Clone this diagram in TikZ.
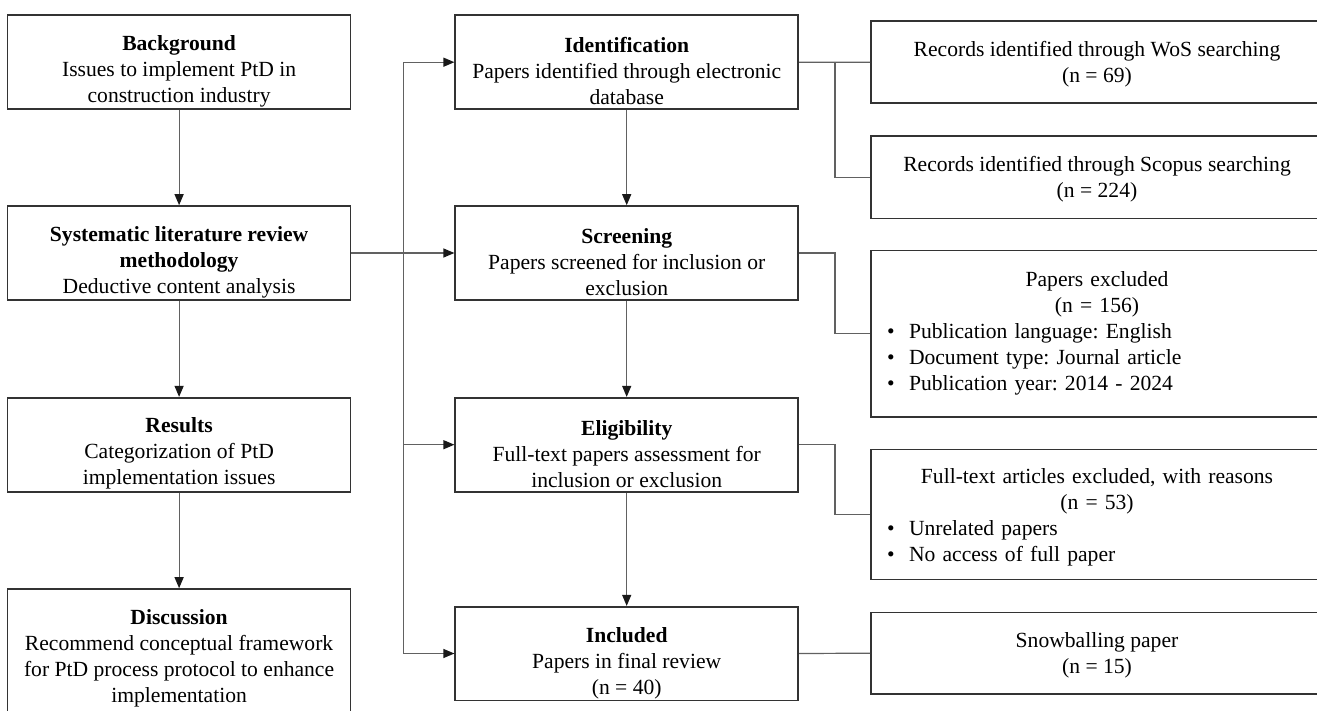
\documentclass[tikz,border=0pt]{standalone}
\usepackage{fontspec}
\setmainfont{Liberation Serif}
\usetikzlibrary{arrows.meta,calc}
\frenchspacing
\begin{document}
\begin{tikzpicture}[x=1pt,y=-1pt,
  box/.style={draw=black!80,line width=1.6pt,inner sep=0pt,fill=white},
  lbox/.style={box,minimum width=343pt,minimum height=94pt},
  rbox/.style={box,minimum width=452pt},
  txt/.style={align=center,inner sep=0pt,font=\fontsize{21.6}{26}\selectfont},
  rtxt/.style={align=left,text width=420pt,inner sep=0pt,font=\fontsize{21.6}{26}\selectfont},
  conn/.style={draw=black!62,line width=1.2pt},
  arr/.style={conn,-{Triangle[length=11pt,width=9pt,color=black!90]}}
]
\useasboundingbox (0,0) rectangle (1317,711);
\clip (0,0) rectangle (1317,711);
\fill[white] (0,0) rectangle (1317,711);

% left column
\node[lbox] (bg)  at (179.1,62.2) {};
\node[lbox] (slr) at (179.1,253) {};
\node[lbox] (res) at (179.1,444.7) {};
\node[lbox,minimum height=151pt] (dis) at (179.1,664.5) {};

% middle column
\node[lbox] (idn) at (626.7,62.2) {};
\node[lbox] (scr) at (626.7,253) {};
\node[lbox] (eli) at (626.7,444.7) {};
\node[lbox,minimum height=93.6pt] (inc) at (626.7,653.5) {};

% right column
\node[rbox,minimum height=82pt]  (wos) at (1097,62.3) {};
\node[rbox,minimum height=82.3pt] (sco) at (1097,177.2) {};
\node[rbox,minimum height=166pt] (exc) at (1097,333.7) {};
\node[rbox,minimum height=130pt] (ftx) at (1097,514.3) {};
\node[rbox,minimum height=81.7pt] (snw) at (1097,653.2) {};

% texts
\node[txt] (bgt)  at ([yshift=-9pt]bg.center) {\textbf{Background}\\Issues to implement PtD in\\construction industry};
\node[txt] (slrt) at ([yshift=-9pt]slr.center) {\textbf{Systematic literature review}\\\textbf{methodology}\\Deductive content analysis};
\node[txt] (rest) at ([yshift=-9pt]res.center) {\textbf{Results}\\Categorization of PtD\\implementation issues};
\node[txt] (dist) at (179.1,658.5) {\textbf{Discussion}\\Recommend conceptual framework\\for PtD process protocol to enhance\\implementation};

\node[txt] (idnt) at ([yshift=-9pt]idn.center) {\textbf{Identification}\\Papers identified through electronic\\database};
\node[txt] (scrt) at ([yshift=-9pt]scr.center) {\textbf{Screening}\\Papers screened for inclusion or\\exclusion};
\node[txt] (elit) at ([yshift=-9pt]eli.center) {\textbf{Eligibility}\\Full-text papers assessment for\\inclusion or exclusion};
\node[txt] (inct) at ([yshift=-9.5pt]inc.center) {\textbf{Included}\\Papers in final review\\(n = 40)};

\node[txt] (wost) at ([yshift=-2.3pt]wos.center) {Records identified through WoS searching\\(n = 69)};
\node[txt] (scot) at ([yshift=-2.3pt]sco.center) {Records identified through Scopus searching\\(n = 224)};
\node[rtxt] (exct) at (1097,333) {\centering Papers excluded\\(n = 156)\par
  \raggedright
  \makebox[22pt][l]{\textbullet}Publication language: English\\
  \makebox[22pt][l]{\textbullet}Document type: Journal article\\
  \makebox[22pt][l]{\textbullet}Publication year: 2014 - 2024};
\node[rtxt] (ftxt) at (1097,517.5) {\centering Full-text articles excluded, with reasons\\(n = 53)\par
  \raggedright
  \makebox[22pt][l]{\textbullet}Unrelated papers\\
  \makebox[22pt][l]{\textbullet}No access of full paper};
\node[txt] (snwt) at ([yshift=-2.3pt]snw.center) {Snowballing paper\\(n = 15)};

% coordinates for trunks
\coordinate (trunkL) at (403.2,0);
\coordinate (trunkR) at (835,0);

% left vertical arrows
\draw[arr] (bg.south) -- (slr.north);
\draw[arr] (slr.south) -- (res.north);
\draw[arr] (res.south) -- (dis.north);

% middle vertical arrows
\draw[arr] (idn.south) -- (scr.north);
\draw[arr] (scr.south) -- (eli.north);
\draw[arr] (eli.south) -- (inc.north);

% SLR to middle column
\draw[conn] (idn.west -| trunkL) -- (inc.west -| trunkL);
\draw[arr] (slr.east) -- (scr.west);
\draw[arr] (idn.west -| trunkL) -- (idn.west);
\draw[arr] (eli.west -| trunkL) -- (eli.west);
\draw[arr] (inc.west -| trunkL) -- (inc.west);

% middle to right
\draw[conn] (idn.east) -- (wos.west);
\draw[conn] (idn.east -| trunkR) |- (sco.west);
\draw[conn] (scr.east) -| (trunkR |- exc.west) -- (exc.west);
\draw[conn] (eli.east) -| (trunkR |- ftx.west) -- (ftx.west);
\draw[conn] (inc.east) -- (snw.west);
\end{tikzpicture}
\end{document}
